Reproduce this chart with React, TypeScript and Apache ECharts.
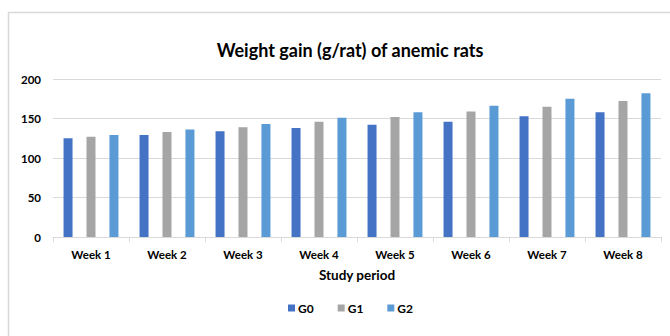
import React, { useEffect, useRef } from "react";
import * as echarts from "echarts";

const categories = ["Week 1", "Week 2", "Week 3", "Week 4", "Week 5", "Week 6", "Week 7", "Week 8"];
const g0 = [125, 129, 134, 138, 142, 146, 153, 158];
const g1 = [127, 133, 139, 146, 152, 159, 165, 172];
const g2 = [129, 136, 143, 151, 158, 166, 175, 182];
const seriesNames = ["G0", "G1", "G2"];
const colors = ["#4472C4", "#A5A5A5", "#5B9BD5"];

const FONT = "Lato, 'Open Sans', sans-serif";

export default function App() {
  const ref = useRef<HTMLDivElement>(null);
  useEffect(() => {
    document.body.style.margin = "0";
    const chart = echarts.init(ref.current!, null, { renderer: "svg" });
    const data = [g0, g1, g2];
    chart.setOption({
      animation: false,
      backgroundColor: "#ffffff",
      textStyle: { fontFamily: FONT },
      title: {
        text: "Weight gain (g/rat) of anemic rats",
        left: 345,
        textAlign: "center",
        top: 36,
        textStyle: { fontSize: 18, fontWeight: "bold", color: "#000000", fontFamily: FONT },
      },
      graphic: [
        {
          type: "rect",
          shape: { x: 8.5, y: 12.5, width: 700, height: 400 },
          style: { fill: "none", stroke: "#d9d9d9", lineWidth: 1.5 },
          silent: true,
        },
      ],
      legend: {
        data: seriesNames,
        left: 283,
        top: 297,
        orient: "horizontal",
        itemWidth: 7,
        itemHeight: 7,
        itemGap: 24,
        icon: "rect",
        textStyle: { fontSize: 12, fontWeight: "bold", color: "#000", fontFamily: FONT, padding: [0, 0, 0, -2] },
      },
      grid: { left: 53, right: 9, top: 79, bottom: 99 },
      xAxis: {
        type: "category",
        data: categories,
        name: "Study period",
        nameLocation: "middle",
        nameGap: 31,
        nameTextStyle: { fontSize: 13.5, fontWeight: "bold", color: "#000", fontFamily: FONT },
        axisLine: { lineStyle: { color: "#d9d9d9", width: 1 } },
        axisTick: { show: true, length: 5, lineStyle: { color: "#d9d9d9" } },
        axisLabel: { fontSize: 11.5, fontWeight: "bold", color: "#000", margin: 11, fontFamily: FONT },
      },
      yAxis: {
        type: "value",
        min: 0,
        max: 200,
        interval: 50,
        axisLine: { show: false },
        axisTick: { show: false },
        splitLine: { lineStyle: { color: "#d9d9d9", width: 1 } },
        axisLabel: { fontSize: 11.5, fontWeight: "bold", color: "#000", margin: 12, fontFamily: FONT },
      },
      series: seriesNames.map((name, i) => ({
        name,
        type: "bar",
        data: data[i],
        barWidth: 9,
        barGap: "155%",
        itemStyle: { color: colors[i] },
      })),
    });
    return () => chart.dispose();
  }, []);
  return <div ref={ref} style={{ width: 670, height: 336 }} />;
}
